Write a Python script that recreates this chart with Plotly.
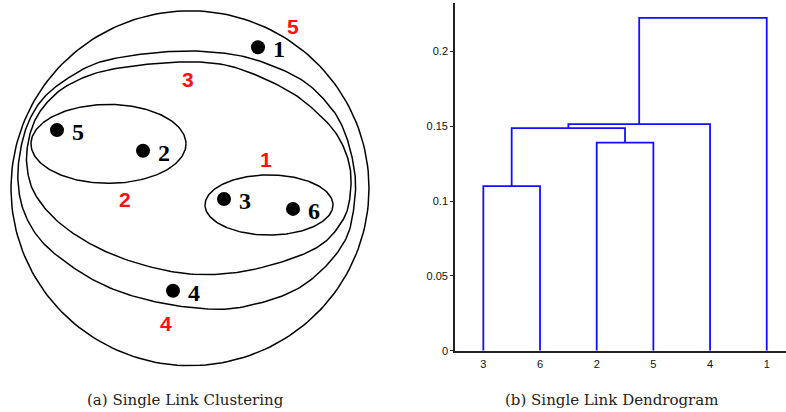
import numpy as np
import plotly.graph_objects as go

# ---------------- data ----------------
# left panel: points (illustration coordinates)
point_ids = ["1", "2", "3", "4", "5", "6"]
point_x = [258, 143, 224, 173, 57, 293]
point_y = [48, 153, 202, 295, 132, 212]

# red cluster-order labels
order_labels = ["1", "2", "3", "4", "5"]
order_x = [266, 125, 188, 166, 293]
order_y = [162, 202, 81, 328, 27]

# dendrogram: leaf order and merge list (child a, child b, height)
leaf_order = ["3", "6", "2", "5", "4", "1"]
merge_a = ["3", "2", "c1", "c3", "c4"]
merge_b = ["6", "5", "c2", "4", "1"]
merge_h = [0.110, 0.139, 0.1487, 0.1513, 0.2222]

y_tickvals = [0, 0.05, 0.1, 0.15, 0.2]
y_ticktext = ["0", "0.05", "0.1", "0.15", "0.2"]

# ---------------- geometry helpers ----------------
def ellipse(cx, cy, rx, ry, n=200):
    t = np.linspace(0, 2 * np.pi, n)
    return cx + rx * np.cos(t), cy + ry * np.sin(t)

def closed_curve(pts, n=16):
    P = np.array(pts, dtype=float)
    N = len(P)
    out = []
    t = np.linspace(0, 1, n, endpoint=False)[:, None]
    for i in range(N):
        p0, p1, p2, p3 = P[(i - 1) % N], P[i], P[(i + 1) % N], P[(i + 2) % N]
        seg = 0.5 * ((2 * p1) + (-p0 + p2) * t + (2 * p0 - 5 * p1 + 4 * p2 - p3) * t ** 2
                     + (-p0 + 3 * p1 - 3 * p2 + p3) * t ** 3)
        out.append(seg)
    out.append(P[:1])
    A = np.vstack(out)
    return A[:, 0], A[:, 1]

E4 = [(200, 52), (250, 59), (300, 80), (330, 108), (345, 135), (354, 170), (355, 200),
      (347, 240), (323, 273), (290, 297), (240, 312), (200, 313), (150, 305), (105, 290),
      (67, 267), (40, 243), (24, 215), (18, 185), (20, 155), (28, 125), (43, 100),
      (67, 80), (100, 63), (150, 54)]
E3 = [(200, 63), (240, 70), (290, 93), (323, 120), (340, 142), (350, 170), (350, 200),
      (343, 223), (323, 247), (290, 263), (240, 276), (190, 278), (140, 268), (95, 250),
      (58, 225), (35, 197), (27, 170), (28, 145), (35, 122), (48, 103), (67, 87),
      (100, 73), (150, 65)]

fig = go.Figure()
line_style = dict(color="black", width=1.5)

curves = [ellipse(190, 191, 179, 180), closed_curve(E4), closed_curve(E3),
          ellipse(108.5, 146, 77.5, 40), ellipse(269, 208, 64, 30.5)]
for cx, cy in curves:
    fig.add_trace(go.Scatter(x=cx, y=cy, mode="lines", line=line_style,
                             hoverinfo="skip", showlegend=False, xaxis="x", yaxis="y"))

fig.add_trace(go.Scatter(x=point_x, y=point_y, mode="markers",
                         marker=dict(color="black", size=14),
                         showlegend=False, xaxis="x", yaxis="y"))

annotations = []
for pid, px, py in zip(point_ids, point_x, point_y):
    annotations.append(dict(x=px + 21, y=py + 2, xref="x", yref="y", text="<b>%s</b>" % pid,
                            showarrow=False, xanchor="center", yanchor="middle",
                            font=dict(family="Liberation Serif", size=24, color="black")))
for lab, lx, ly in zip(order_labels, order_x, order_y):
    annotations.append(dict(x=lx, y=ly, xref="x", yref="y", text="<b>%s</b>" % lab,
                            showarrow=False, xanchor="center", yanchor="middle",
                            font=dict(family="Liberation Sans", size=21, color="#ff1010")))

# ---------------- dendrogram ----------------
pos = {leaf: i + 1 for i, leaf in enumerate(leaf_order)}
height = {leaf: 0.0 for leaf in leaf_order}
for k, (a, b, h) in enumerate(zip(merge_a, merge_b, merge_h)):
    xa, xb = pos[a], pos[b]
    fig.add_trace(go.Scatter(x=[xa, xa, xb, xb], y=[height[a], h, h, height[b]],
                             mode="lines", line=dict(color="#1010ff", width=1.8),
                             hoverinfo="skip", showlegend=False, xaxis="x2", yaxis="y2"))
    name = "c%d" % (k + 1)
    pos[name] = (xa + xb) / 2
    height[name] = h

W, H = 786, 412
tick_font = dict(family="Liberation Sans", size=11, color="#111")
cap_font = dict(family="DejaVu Serif", size=15, color="#222")
fig.update_layout(
    width=W, height=H, margin=dict(l=0, r=0, t=0, b=0),
    paper_bgcolor="white", plot_bgcolor="white",
    xaxis=dict(domain=[0, 400 / W], range=[0, 400], visible=False),
    yaxis=dict(domain=[0, 1], range=[412, 0], visible=False),
    xaxis2=dict(domain=[455 / W, 1], range=[0.5, 6.34], anchor="y2",
                tickvals=list(range(1, len(leaf_order) + 1)), ticktext=leaf_order,
                showline=True, linecolor="#222", linewidth=1.6, ticks="",
                showgrid=False, zeroline=False, ticklabelstandoff=2,
                tickfont=tick_font),
    yaxis2=dict(domain=[56 / H, 409 / H], range=[0, 0.2322], anchor="x2",
                tickvals=y_tickvals, ticktext=y_ticktext,
                showline=True, linecolor="#222", linewidth=1.6,
                ticks="outside", ticklen=3, tickcolor="#222",
                showgrid=False, zeroline=False, ticklabelstandoff=0,
                tickfont=tick_font),
    annotations=annotations + [
        dict(x=185 / W, y=406, xref="paper", yref="y",
             text="(a) Single Link Clustering", showarrow=False,
             xanchor="center", yanchor="middle", font=cap_font),
        dict(x=611 / W, y=406, xref="paper", yref="y",
             text="(b) Single Link Dendrogram", showarrow=False,
             xanchor="center", yanchor="middle", font=cap_font),
    ],
)

fig.write_html("out.html", config={"displayModeBar": False},
               post_script="document.body.style.margin='0';document.body.style.padding='0';")
